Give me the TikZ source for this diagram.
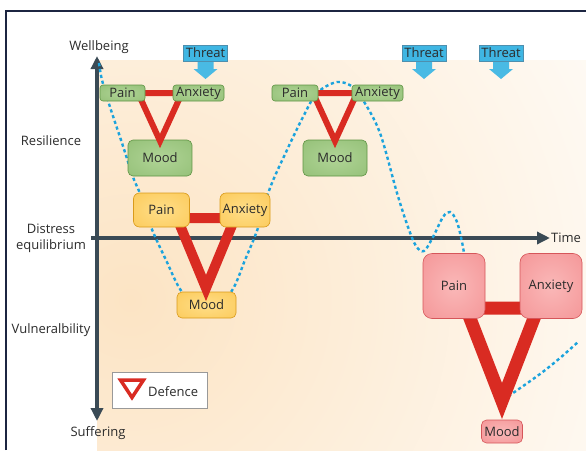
\documentclass[tikz,border=0pt]{standalone}
\usepackage{fontspec}
\setmainfont{Open Sans}
\usetikzlibrary{arrows.meta}
\definecolor{navy}{HTML}{1C2541}
\definecolor{axisc}{HTML}{3A4A55}
\definecolor{curvec}{HTML}{1BA3DD}
\definecolor{txt}{HTML}{2B2B2B}
\definecolor{redv}{HTML}{D92B22}
\definecolor{gin}{HTML}{B0D496}
\definecolor{gout}{HTML}{78AC59}
\definecolor{gdraw}{HTML}{5F9444}
\definecolor{yin}{HTML}{FFDE88}
\definecolor{yout}{HTML}{F8B62C}
\definecolor{ydraw}{HTML}{D99B1C}
\definecolor{rin}{HTML}{FAB8B8}
\definecolor{rout}{HTML}{EE7275}
\definecolor{rdraw}{HTML}{D6565A}
\definecolor{thr}{HTML}{3FB6E3}
\definecolor{thrd}{HTML}{4E8FAE}
\definecolor{peach}{HTML}{FCE4C4}
\pgfdeclareradialshading{gshade}{\pgfpoint{0bp}{0bp}}{color(0bp)=(gin); color(30bp)=(gin!60!gout); color(55bp)=(gout); color(75bp)=(gout)}
\pgfdeclareradialshading{yshade}{\pgfpoint{0bp}{0bp}}{color(0bp)=(yin); color(30bp)=(yin!60!yout); color(55bp)=(yout); color(75bp)=(yout)}
\pgfdeclareradialshading{rshade}{\pgfpoint{0bp}{0bp}}{color(0bp)=(rin); color(30bp)=(rin!60!rout); color(55bp)=(rout); color(75bp)=(rout)}
\begin{document}
\begin{tikzpicture}[x=1pt,y=-1pt,
  lab/.style={font=\fontsize{13}{16}\selectfont, text=txt, inner sep=0pt},
  box/.style={rounded corners=#1, inner sep=0pt, font=\fontsize{13}{15}\selectfont, text=txt, line width=0.6pt},
  gbox/.style={box=#1, draw=gdraw, shading=gshade, shade},
  ybox/.style={box=#1, draw=ydraw, shading=yshade, shade},
  rbox/.style={box=#1, draw=rdraw, shading=rshade, shade},
  threatbox/.style={draw=thrd, fill=thr, line width=0.6pt, inner sep=0pt, minimum width=44pt, minimum height=16pt, font=\fontsize{13}{15}\selectfont, text=txt},
  axis/.style={draw=axisc, line width=4pt},
  vee/.style={draw=redv, line join=miter},
  curve/.style={draw=curvec, line width=2.4pt, dash pattern=on 3.2pt off 2.8pt}]
\useasboundingbox (0,0) rectangle (586,450);
% background
\begin{scope}
  \clip (97,60) rectangle (586,450);
  \shade[inner color=peach, outer color=white] (130,300) circle (640);
\end{scope}
% frame
\draw[navy, line width=1.2pt] (6,450) -- (6,11) -- (586,11);
% axes
\coordinate (ytop) at (97,56);
\coordinate (ybot) at (97,421);
\coordinate (xl) at (91,238);
\coordinate (xr) at (550,238);
\draw[axis, {Triangle[width=12pt,length=13pt]}-{Triangle[width=12pt,length=13pt]}] (ybot) -- (ytop);
\draw[axis, -{Triangle[width=12pt,length=13pt]}] (xl) -- (xr);
% axis labels
\node[lab] (wb) at (99,47) {Wellbeing};
\node[lab] (res) at (51,141) {Resilience};
\node[lab, align=center] (de) at (51,238) {Distress\\equilibrium};
\node[lab] (vul) at (51,330) {Vulneralbility};
\node[lab] (suf) at (98,433) {Suffering};
\node[lab] (time) at (566,238) {Time};
% curve
\draw[curve] plot[smooth, tension=0.55] coordinates {(99,63) (102,80) (110,107) (122,143) (133,177) (141,196) (151,227) (166,260) (182,292) (206,314) (231,292) (245,260) (258,228) (270,188) (287,150) (303,117) (317,93) (337,82) (353,87) (363,100) (380,133) (397,193) (408,227) (416,246) (424,251) (433,237) (443,217) (450,212) (457,222) (463,247) (466,270)};
\draw[curve] plot[smooth, tension=0.55] coordinates {(503,399) (513,393) (540,374) (560,358) (578,342)};
% threats
\foreach \n/\x in {1/205.5,2/424,3/501}{
  \fill[thr!95!white] (\x-8,61) -- (\x+8,61) -- (\x+8,69) -- (\x+12,69) -- (\x,79) -- (\x-12,69) -- (\x-8,69) -- cycle;
  \node[threatbox] (t\n) at (\x,53) {Threat};
}
% green group 1
\node[gbox=5pt, minimum width=64pt, minimum height=36pt] (gm1) at (160,158) {Mood};
\draw[vee, line width=6pt] (138,93) -- (182,93) -- (160,141) -- cycle;
\node[gbox=3pt, minimum width=45pt, minimum height=16pt] (gp1) at (122.5,93) {Pain};
\node[gbox=3pt, minimum width=51pt, minimum height=16pt] (ga1) at (198.5,93) {Anxiety};
% green group 2
\node[gbox=5pt, minimum width=64pt, minimum height=36pt] (gm2) at (335,158) {Mood};
\draw[vee, line width=6pt] (313,93) -- (357,93) -- (335,141) -- cycle;
\node[gbox=3pt, minimum width=46pt, minimum height=16pt] (gp2) at (295,93) {Pain};
\node[gbox=3pt, minimum width=51pt, minimum height=16pt] (ga2) at (377.5,93) {Anxiety};
% yellow group
\node[ybox=5pt, minimum width=59pt, minimum height=26pt] (ym) at (206.5,305) {Mood};
\draw[vee, line width=10pt] (177,218) -- (235,218) -- (206,288) -- cycle;
\node[ybox=6pt, minimum width=56pt, minimum height=34pt] (yp) at (161.5,210) {Pain};
\node[ybox=6pt, minimum width=50pt, minimum height=34pt] (ya) at (245,210) {Anxiety};
% red group
\node[rbox=5pt, minimum width=41pt, minimum height=23pt] (rm) at (502,431.5) {Mood};
\draw[vee, line width=13pt] (466,308) -- (538,308) -- (502,401) -- cycle;
\node[rbox=9pt, minimum width=62pt, minimum height=65pt] (rp) at (454,286) {Pain};
\node[rbox=9pt, minimum width=62pt, minimum height=65pt] (ra) at (551,286) {Anxiety};
% legend
\node[draw=black!40, fill=white, line width=0.6pt, minimum width=95pt, minimum height=36pt, inner sep=0pt] (leg) at (159.5,390) {};
\draw[vee, line width=3.5pt] (120.5,380) -- (143.5,380) -- (132,397.5) -- cycle;
\node[lab, anchor=west] (legt) at (148,391.5) {Defence};
\end{tikzpicture}
\end{document}
